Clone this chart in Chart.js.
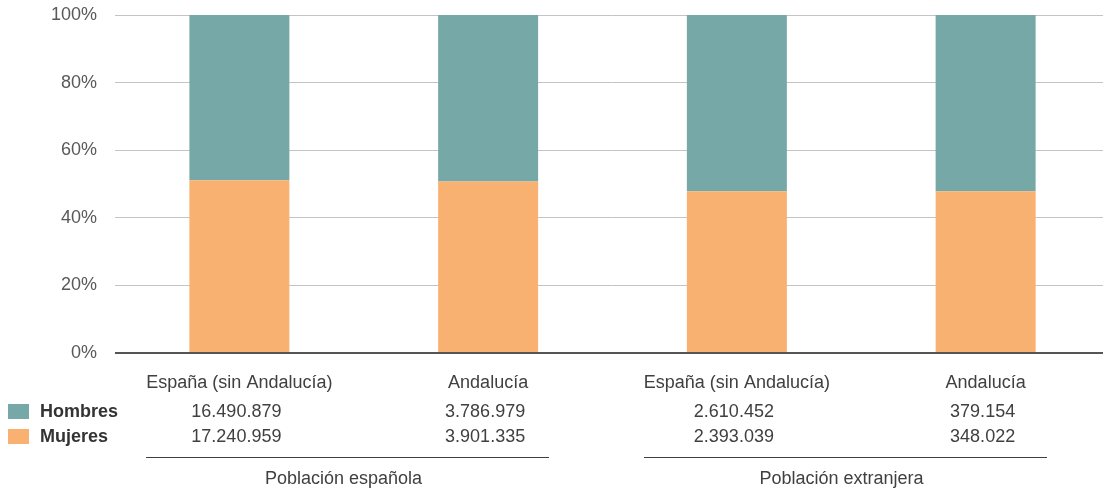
<!DOCTYPE html>
<html>
<head>
<meta charset="utf-8">
<script src="https://cdn.jsdelivr.net/npm/chart.js@4.4.0/dist/chart.umd.min.js"></script>
<style>
  html, body { margin: 0; padding: 0; background: #fff; overflow: hidden; }
  #wrap { width: 1110px; height: 492px; position: relative; }
</style>
</head>
<body>
<div id="wrap"><canvas id="chart"></canvas></div>
<script>
// --- DATA ---
const categories = ['España (sin Andalucía)', 'Andalucía', 'España (sin Andalucía)', 'Andalucía'];
const hombres = [16490879, 3786979, 2610452, 379154];
const mujeres = [17240959, 3901335, 2393039, 348022];
const groups = ['Población española', 'Población extranjera'];
const yTicks = [0, 20, 40, 60, 80, 100];

const TEAL = '#76a8a8';
const ORANGE = '#f9b172';
const FONT = '"Liberation Sans", Arial, sans-serif';

// share of each sex in every column, in percent
const pctMujeres = mujeres.map((m, i) => m / (m + hombres[i]) * 100);
const pctHombres = hombres.map((h, i) => h / (h + mujeres[i]) * 100);

function fmt(n) {
    return String(n).replace(/\B(?=(\d{3})+(?!\d))/g, '.');
}

// --- TABLE UNDER THE AXIS ---
const tablePlugin = {
    id: 'tablePlugin',
    afterDraw(chart) {
        const ctx = chart.ctx;
        const x = chart.scales.x;
        const step = x.getPixelForValue(1) - x.getPixelForValue(0);
        ctx.save();
        ctx.textBaseline = 'middle';

        // legend keys
        const rows = [
            { label: 'Hombres', color: TEAL, data: hombres, y: 411 },
            { label: 'Mujeres', color: ORANGE, data: mujeres, y: 436 }
        ];
        rows.forEach(r => {
            ctx.fillStyle = r.color;
            ctx.fillRect(8, r.y - 7, 21, 15);
            ctx.fillStyle = '#333333';
            ctx.font = 'bold 18px ' + FONT;
            ctx.textAlign = 'left';
            ctx.fillText(r.label, 40, r.y + 1);
            ctx.font = '18px ' + FONT;
            ctx.fillStyle = '#404040';
            ctx.textAlign = 'center';
            r.data.forEach((v, i) => ctx.fillText(fmt(v), x.getPixelForValue(i) - 3, r.y + 1));
        });

        // group rules and labels
        ctx.strokeStyle = '#404040';
        ctx.lineWidth = 1;
        groups.forEach((g, gi) => {
            const a = x.getPixelForValue(gi * 2);
            const b = x.getPixelForValue(gi * 2 + 1);
            const x0 = Math.round(a - 0.375 * step);
            const x1 = Math.round(b + 0.245 * step);
            ctx.beginPath();
            ctx.moveTo(x0, 457.5);
            ctx.lineTo(x1, 457.5);
            ctx.stroke();
            ctx.fillStyle = '#404040';
            ctx.textAlign = 'center';
            ctx.fillText(g, (x0 + x1) / 2 - 4, 479);
        });
        ctx.restore();
    }
};

new Chart(document.getElementById('chart'), {
    type: 'bar',
    data: {
        labels: categories,
        datasets: [
            { label: 'Mujeres', data: pctMujeres, backgroundColor: ORANGE, barPercentage: 0.402, categoryPercentage: 1 },
            { label: 'Hombres', data: pctHombres, backgroundColor: TEAL, barPercentage: 0.402, categoryPercentage: 1 }
        ]
    },
    options: {
        responsive: true, maintainAspectRatio: false,
        animation: false,
        layout: { padding: { top: 15, left: 0, right: 0, bottom: 0 } },
        plugins: { legend: { display: false }, tooltip: { enabled: false } },
        scales: {
            x: {
                stacked: true,
                grid: { display: false },
                border: { display: false },
                ticks: { color: '#404040', font: { family: FONT, size: 18 }, padding: 11, maxRotation: 0 },
                afterFit: (s) => { s.height = 139; }
            },
            y: {
                stacked: true,
                min: 0, max: 100,
                afterBuildTicks: (s) => { s.ticks = yTicks.map(v => ({ value: v })); },
                border: { display: false },
                grid: {
                    drawTicks: false,
                    color: (c) => c.tick && c.tick.value === 0 ? '#555555' : '#c4c4c4',
                    lineWidth: (c) => c.tick && c.tick.value === 0 ? 2 : 1
                },
                ticks: {
                    color: '#595959', font: { family: FONT, size: 18 }, padding: 18,
                    callback: (v) => v + '%'
                },
                afterFit: (s) => { s.width = 115; s.paddingTop = 0; s.paddingBottom = 0; }
            }
        }
    },
    plugins: [tablePlugin]
});
</script>
</body>
</html>
